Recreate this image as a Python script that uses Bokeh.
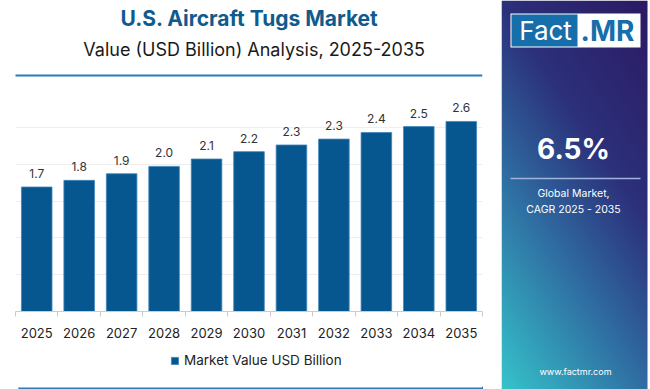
import numpy as np
from bokeh.plotting import figure
from bokeh.layouts import row, column
from bokeh.models import Range1d, FixedTicker, Legend, LegendItem, ColumnDataSource
from bokeh.core.properties import value
from bokeh.embed import file_html
from bokeh.resources import INLINE

# ---------------- data ----------------
years = [2025, 2026, 2027, 2028, 2029, 2030, 2031, 2032, 2033, 2034, 2035]
values = [1.69, 1.78, 1.87, 1.97, 2.07, 2.17, 2.26, 2.34, 2.43, 2.51, 2.58]
value_labels = ["1.7", "1.8", "1.9", "2.0", "2.1", "2.2", "2.3", "2.3", "2.4", "2.5", "2.6"]
series_name = "Market Value USD Billion"
title_text = "U.S. Aircraft Tugs Market"
subtitle_text = "Value (USD Billion) Analysis, 2025-2035"
cagr_text = "6.5%"
cagr_caption = ["Global Market,", "CAGR 2025 - 2035"]
website = "www.factmr.com"

FONT = "Inter"
BAR = "#06578f"
BAR_EDGE = "#3f86bb"
TITLE_BLUE = "#0f5b8e"
LINE_BLUE = "#2d7ab5"


def blank_fig(w, h, x0, x1, y1):
    fig = figure(width=w, height=h, x_range=Range1d(x0, x1), y_range=Range1d(0, y1),
                 toolbar_location=None, output_backend="svg", min_border=0,
                 x_axis_location=None, y_axis_location=None)
    fig.grid.visible = False
    fig.outline_line_color = None
    fig.background_fill_color = "#ffffff"
    fig.border_fill_color = "#ffffff"
    return fig


# ---------------- header (page y 0..80) ----------------
hdr = blank_fig(501, 80, 0, 501, 80)
HY = lambda py: 80 - py
hdr.text(x=[251], y=[HY(18)], text=[title_text], text_font=value(FONT), text_font_style="bold",
         text_font_size="21px", text_color=TITLE_BLUE, text_align="center", text_baseline="middle")
hdr.text(x=[256], y=[HY(49)], text=[subtitle_text], text_font=value(FONT),
         text_font_size="18px", text_color="#1a1a1a", text_align="center", text_baseline="middle")
hdr.quad(left=[-5], right=[501], top=[HY(74)], bottom=[HY(76)], fill_color=LINE_BLUE, line_color=None)

# ---------------- chart (page y 80..345) ----------------
src = ColumnDataSource(dict(year=years, val=values, lab=value_labels))
p = figure(width=501, height=265, x_range=Range1d(2024.5, 2035.5), y_range=Range1d(0, 3.0),
           toolbar_location=None, output_backend="svg", y_axis_location=None,
           min_border_left=15, min_border_right=19, min_border_top=10, min_border_bottom=34)
p.background_fill_color = "#ffffff"
p.border_fill_color = "#ffffff"
p.outline_line_color = None
bars = p.vbar(x="year", top="val", width=0.72, source=src, fill_color=BAR,
              line_color=BAR_EDGE, line_width=0.8)
p.text(x="year", y="val", text="lab", source=src, y_offset=-9, text_align="center",
       text_baseline="bottom", text_font=value(FONT), text_font_size="12px", text_color="#333333")

p.xgrid.visible = False
p.ygrid.ticker = FixedTicker(ticks=[0.5, 1.0, 1.5, 2.0, 2.5, 3.0])
p.ygrid.grid_line_color = "#eeeeee"

xa = p.xaxis[0]
xa.ticker = FixedTicker(ticks=years, minor_ticks=[y - 0.5 for y in years] + [years[-1] + 0.5])
xa.major_tick_line_color = None
xa.major_tick_out = 0
xa.major_tick_in = 0
xa.minor_tick_line_color = "#cccccc"
xa.minor_tick_out = 5
xa.minor_tick_in = 0
xa.axis_line_color = "#cccccc"
xa.major_label_standoff = 11
xa.major_label_text_font = FONT
xa.major_label_text_font_size = "13px"
xa.major_label_text_color = "#222222"

# ---------------- footer with legend (page y 345..389) ----------------
# the footer's x range does not include the years, so this copy of the series is
# never drawn in the plot area; it only supplies the legend's key glyph
ftr = blank_fig(501, 44, 0, 501, 44)
FY = lambda py: 389 - py
key = ftr.vbar(x="year", top="val", width=0.72, source=src, fill_color=BAR,
               line_color=BAR_EDGE, line_width=0.8)
legend = Legend(items=[LegendItem(label=series_name, renderers=[key])],
                orientation="horizontal", location=(155, 21),
                border_line_color=None, background_fill_alpha=0,
                label_text_font=FONT, label_text_font_size="13.5px", label_text_color="#222222",
                glyph_width=9, glyph_height=9, label_standoff=5, padding=0, margin=0)
ftr.add_layout(legend)
ftr.quad(left=[3], right=[501], top=[FY(387)], bottom=[FY(389)], fill_color=LINE_BLUE, line_color=None)

left = column(hdr, p, ftr, spacing=0)

# ---------------- right panel (page x 501..650) ----------------
pan = blank_fig(149, 389, 501, 650, 389)
PY = lambda py: 389 - py

W, H = 146, 389
xf = np.linspace(0, 1, W)[None, :]
yf = np.linspace(0, 1, H)[:, None]
t = (0.8 * yf + 0.45 * xf) / 1.25
stops = [0.0, 0.38, 0.64, 1.0]
cols = np.array([[54, 196, 203], [47, 105, 160], [44, 48, 122], [44, 26, 100]], dtype=float)
img = np.zeros((H, W), dtype=np.uint32)
view = img.view(dtype=np.uint8).reshape((H, W, 4))
for c in range(3):
    view[:, :, c] = np.interp(t, stops, cols[:, c]).astype(np.uint8)
view[:, :, 3] = 255
pan.image_rgba(image=[img], x=501, y=0, dw=W, dh=H)

# logo
pan.quad(left=[510], right=[640], top=[PY(13)], bottom=[PY(47)], fill_color="#ffffff", line_color=None)
pan.quad(left=[511], right=[577], top=[PY(14)], bottom=[PY(46)], fill_color="#166eaa", line_color=None)
pan.text(x=[545], y=[PY(30)], text=["Fact"], text_font=value(FONT), text_font_size="26px",
         text_color="#ffffff", text_align="center", text_baseline="middle")
pan.text(x=[607], y=[PY(30)], text=[".MR"], text_font=value(FONT), text_font_size="28px",
         text_font_style="bold", text_color="#166eaa", text_align="center", text_baseline="middle")

pan.text(x=[573], y=[PY(148)], text=[cagr_text], text_font=value(FONT), text_font_size="28px",
         text_font_style="bold", text_color="#ffffff", text_align="center", text_baseline="middle")
pan.segment(x0=[510], y0=[PY(178)], x1=[640], y1=[PY(178)], line_color="#9fb3dc", line_width=1.5)
pan.text(x=[573, 573], y=[PY(193), PY(209)], text=cagr_caption, text_font=value(FONT),
         text_font_size="10.5px", text_color="#ffffff", text_align="center", text_baseline="middle")
pan.text(x=[575], y=[PY(371)], text=[website], text_font=value(FONT), text_font_size="9px",
         text_color="#ffffff", text_align="center", text_baseline="middle")

layout = row(left, pan, spacing=0)
open("out.html", "w").write(file_html(layout, INLINE))
